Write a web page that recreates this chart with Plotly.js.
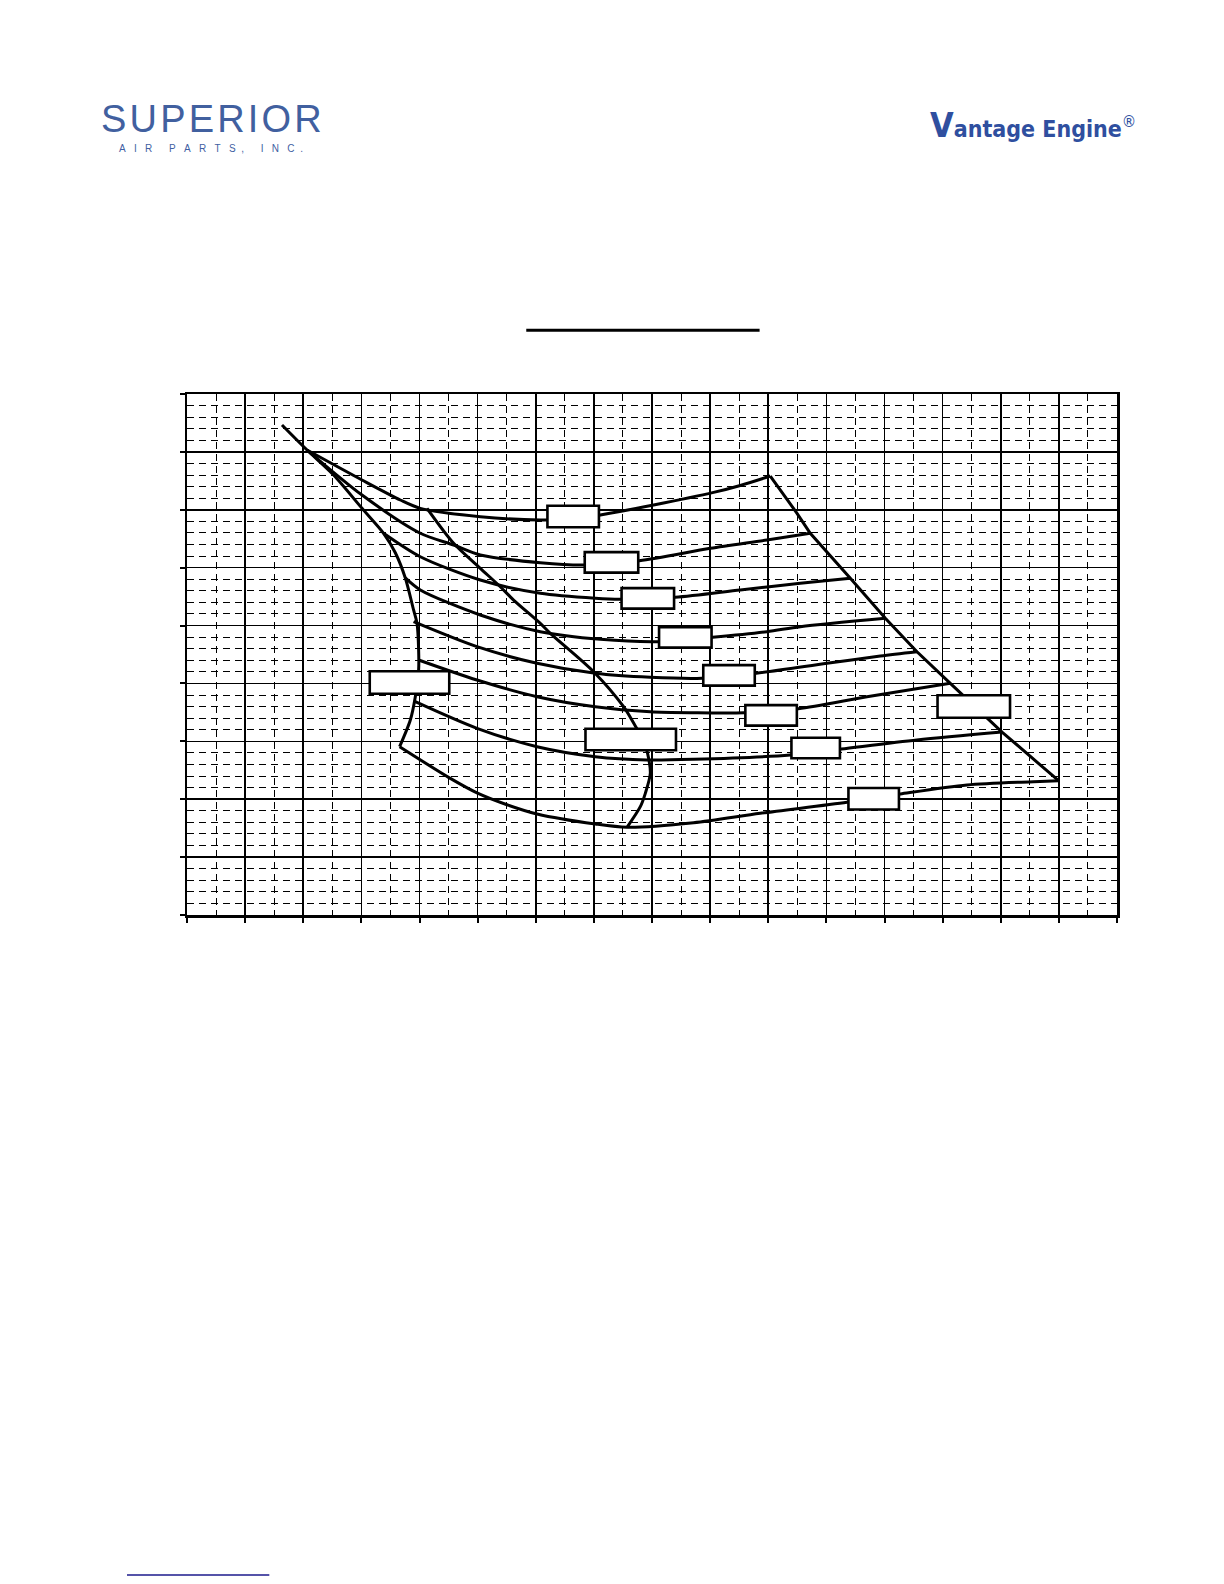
<!DOCTYPE html>
<html>
<head>
<meta charset="utf-8">
<script src="https://cdn.plot.ly/plotly-3.0.1.min.js"></script>
<style>
  html, body { margin: 0; padding: 0; background: #fff; }
  #chart { width: 1224px; height: 1584px; }
</style>
</head>
<body>
<div id="chart"></div>
<script>
// ---- data (grid units) ----
const leftBoundX = [1.634, 2.065, 2.522, 3.011, 3.382, 3.584, 3.756, 3.898, 3.957, 3.985, 3.985, 3.928, 3.842, 3.658];
const leftBoundY = [8.464, 8.032, 7.601, 7.025, 6.594, 6.258, 5.822, 5.269, 5.039, 4.578, 4.232, 3.771, 3.368, 2.907];

const rightBoundX = [10.035, 10.495, 10.723, 11.011, 11.412, 12.014, 12.559, 13.132, 14.022, 14.995];
const rightBoundY = [7.583, 6.939, 6.594, 6.276, 5.816, 5.125, 4.548, 4.002, 3.160, 2.320];

const c1X = [2.065, 3.011, 3.670, 4.014, 5.046, 6.078, 6.644, 7.111, 8.028, 9.060, 9.519, 10.035];
const c1Y = [8.032, 7.514, 7.169, 7.025, 6.880, 6.823, 6.840, 6.910, 7.082, 7.300, 7.420, 7.583];

const c2X = [2.065, 3.011, 4.014, 4.587, 5.046, 6.078, 6.823, 7.782, 9.003, 9.978, 10.723];
const c2Y = [8.032, 7.255, 6.594, 6.391, 6.219, 6.086, 6.046, 6.120, 6.334, 6.478, 6.594];

const c3X = [3.382, 4.014, 5.046, 6.078, 7.025, 7.455, 8.401, 9.519, 10.552, 11.412];
const c3Y = [6.594, 6.189, 5.787, 5.557, 5.471, 5.454, 5.488, 5.614, 5.730, 5.816];

const c4X = [3.756, 4.014, 5.046, 6.078, 7.111, 8.103, 9.043, 9.978, 10.552, 12.014];
const c4Y = [5.822, 5.614, 5.182, 4.894, 4.763, 4.721, 4.797, 4.894, 4.980, 5.125];

const c5X = [3.898, 4.989, 6.022, 7.025, 7.971, 8.860, 9.794, 11.011, 11.928, 12.559];
const c5Y = [5.067, 4.635, 4.348, 4.175, 4.106, 4.089, 4.175, 4.348, 4.474, 4.548];

const c6X = [3.985, 4.989, 6.022, 7.025, 7.971, 8.716, 9.588, 10.517, 11.699, 13.132];
const c6Y = [4.405, 4.059, 3.771, 3.598, 3.512, 3.495, 3.495, 3.564, 3.771, 4.002];

const c7X = [3.928, 4.989, 6.022, 7.025, 7.914, 8.716, 10.380, 11.257, 12.559, 14.022];
const c7Y = [3.685, 3.225, 2.907, 2.735, 2.678, 2.690, 2.764, 2.868, 3.023, 3.160];

const c8X = [3.658, 4.530, 4.989, 5.505, 6.022, 7.025, 7.570, 8.716, 9.863, 11.355, 12.272, 13.419, 14.565, 14.995];
const c8Y = [2.907, 2.360, 2.110, 1.905, 1.745, 1.572, 1.515, 1.594, 1.757, 1.947, 2.090, 2.246, 2.303, 2.320];

const diagX = [4.129, 4.587, 5.046, 5.390, 5.619, 6.078, 6.250, 6.995, 7.511, 7.713, 7.850, 7.924, 7.971, 7.885, 7.799, 7.570];
const diagY = [7.025, 6.421, 5.989, 5.671, 5.441, 5.039, 4.866, 4.203, 3.598, 3.265, 3.030, 2.793, 2.448, 2.102, 1.871, 1.515];

// label box anchor points (grid units)
const boxX = [6.644, 7.303, 7.928, 8.573, 9.325, 10.049, 10.816, 11.814, 7.634, 3.828, 13.536];
const boxY = [6.884, 6.091, 5.469, 4.795, 4.139, 3.448, 2.885, 2.009, 3.032, 4.016, 3.602];

// ---- styling ----
const boxSizePx = [[54,24],[56,23],[55,23],[55,23],[54,23],[54,23],[51,23],[53,24],[93,24],[82,25],[75,25]];
const lineStyle = {color: '#000', width: 3};

function tr(x, y, shape) {
  return {x: x, y: y, type: 'scatter', mode: 'lines', hoverinfo: 'skip',
          line: Object.assign({shape: shape || 'spline', smoothing: 0.8}, lineStyle),
          showlegend: false};
}

const traces = [
  tr(leftBoundX, leftBoundY),
  tr(rightBoundX, rightBoundY, 'linear'),
  tr(c1X, c1Y), tr(c2X, c2Y), tr(c3X, c3Y), tr(c4X, c4Y),
  tr(c5X, c5Y), tr(c6X, c6Y), tr(c7X, c7Y), tr(c8X, c8Y),
  tr(diagX, diagY)
];

const shapes = boxX.map((bx, i) => {
  const w = boxSizePx[i][0] - 2.5, h = boxSizePx[i][1] - 2.5;
  return {type: 'rect', xref: 'x', yref: 'y', xsizemode: 'pixel', ysizemode: 'pixel',
          xanchor: bx, yanchor: boxY[i], x0: -w/2, x1: w/2, y0: -h/2, y1: h/2,
          fillcolor: '#fff', line: {color: '#000', width: 2.6}, layer: 'above'};
});
// title underline
shapes.push({type: 'line', xref: 'paper', yref: 'paper', x0: 0.3648, x1: 0.6157, y0: 1.1225, y1: 1.1225,
             line: {color: '#000', width: 3}});
// hyperlink underline bottom-left
shapes.push({type: 'line', xref: 'paper', yref: 'paper', x0: -0.0645, x1: 0.0885, y0: -1.2668, y1: -1.2668,
             line: {color: '#1c1a8c', width: 1.5}});

const hs = '&#8202;';
const annotations = [
  {xref: 'paper', yref: 'paper', x: 0.026, y: 1.527, xanchor: 'center', yanchor: 'middle', showarrow: false,
   text: ['S','U','P','E','R','I','O','R'].join(hs),
   font: {family: 'Liberation Sans, Arial', size: 38, color: '#41609f'}},
  {xref: 'paper', yref: 'paper', x: 0.026, y: 1.472, xanchor: 'center', yanchor: 'middle', showarrow: false,
   text: 'A&nbsp;&nbsp;&nbsp;I&nbsp;&nbsp;&nbsp;R&nbsp;&nbsp;&nbsp;&nbsp;&nbsp;&nbsp;P&nbsp;&nbsp;&nbsp;A&nbsp;&nbsp;&nbsp;R&nbsp;&nbsp;&nbsp;T&nbsp;&nbsp;&nbsp;S&nbsp;&nbsp;,&nbsp;&nbsp;&nbsp;&nbsp;&nbsp;&nbsp;I&nbsp;&nbsp;&nbsp;N&nbsp;&nbsp;&nbsp;C&nbsp;&nbsp;.',
   font: {family: 'Liberation Sans, Arial', size: 10, color: '#3f5fa3'}},
  {xref: 'paper', yref: 'paper', x: 0.91, y: 1.517, xanchor: 'center', yanchor: 'middle', showarrow: false,
   text: '<b><span style="font-size:34px">V</span>antage Engine</b><sup>®</sup>',
   font: {family: 'DejaVu Sans Condensed, DejaVu Sans', size: 23, color: '#2f4f9f'}}
];

const axisCommon = {
  showline: true, mirror: true, linecolor: '#000', linewidth: 2.5,
  ticks: 'outside', ticklen: 5, tickwidth: 2, tickcolor: '#000',
  showticklabels: false, zeroline: false,
  showgrid: true, gridcolor: '#000', gridwidth: 1.6,
  fixedrange: true
};

const layout = {
  width: 1224, height: 1584,
  margin: {l: 187, r: 107, t: 394, b: 669, pad: 0},
  paper_bgcolor: '#fff', plot_bgcolor: '#fff',
  showlegend: false,
  xaxis: Object.assign({}, axisCommon, {range: [0, 16], dtick: 1, tick0: 0,
    minor: {dtick: 0.5, showgrid: true, gridcolor: '#000', gridwidth: 1, griddash: '7px,5px'}}),
  yaxis: Object.assign({}, axisCommon, {range: [0, 9], dtick: 1, tick0: 0,
    minor: {dtick: 0.2, showgrid: true, gridcolor: '#000', gridwidth: 1, griddash: '7px,5px'}}),
  shapes: shapes,
  annotations: annotations
};

Plotly.newPlot('chart', traces, layout, {staticPlot: true, displayModeBar: false});
</script>
</body>
</html>
